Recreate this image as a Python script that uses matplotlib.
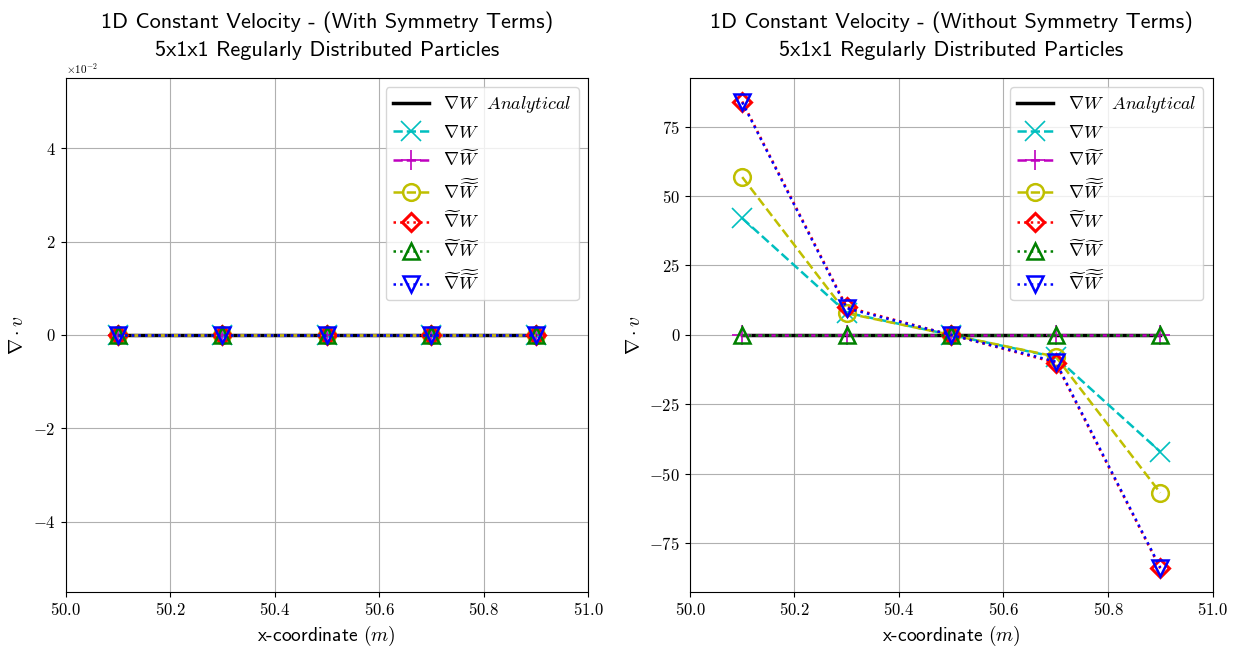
import numpy as np
import matplotlib
matplotlib.use("Agg")
import matplotlib.pyplot as plt
from matplotlib.ticker import FuncFormatter, ScalarFormatter

plt.rcParams['font.family'] = 'serif'
plt.rcParams['font.serif'] = ['cmr10']
plt.rcParams['mathtext.fontset'] = 'cm'
plt.rcParams['axes.formatter.use_mathtext'] = True

x = np.array([50.1, 50.3, 50.5, 50.7, 50.9])

# divergence estimates with symmetry terms (all vanish)
sym_analytical = [0, 0, 0, 0, 0]
sym_gradW = [0, 0, 0, 0, 0]
sym_gradWt = [0, 0, 0, 0, 0]
sym_gradWtt = [0, 0, 0, 0, 0]
sym_tgradW = [0, 0, 0, 0, 0]
sym_tgradWt = [0, 0, 0, 0, 0]
sym_tgradWtt = [0, 0, 0, 0, 0]

# divergence estimates without symmetry terms
nosym_analytical = [0, 0, 0, 0, 0]
nosym_gradW = [42.0, 8.0, 0, -8.0, -42.0]
nosym_gradWt = [0, 0, 0, 0, 0]
nosym_gradWtt = [56.8, 7.8, 0, -7.8, -56.8]
nosym_tgradW = [84.0, 10.0, 0, -10.0, -84.0]
nosym_tgradWt = [0, 0, 0, 0, 0]
nosym_tgradWtt = [83.7, 9.6, 0, -9.6, -83.7]

labels = [r'$\nabla W\;\;\, Analytical$',
          r'$\nabla W$',
          r'$\nabla \widetilde{W}$',
          r'$\nabla \widetilde{\widetilde{W}}$',
          r'$\widetilde{\nabla} W$',
          r'$\widetilde{\nabla} \widetilde{W}$',
          r'$\widetilde{\nabla} \widetilde{\widetilde{W}}$']

styles = [dict(color='k', ls='-', lw=2.5),
          dict(color='c', ls='--', lw=1.8, marker='x', ms=14, mew=1.2),
          dict(color='m', ls='--', lw=1.8, marker='+', ms=14, mew=1.2),
          dict(color='y', ls='--', lw=1.8, marker='o', ms=12, mfc='none', mew=1.8),
          dict(color='r', ls=':', lw=1.8, marker='D', ms=9, mfc='none', mew=2.2),
          dict(color='g', ls=':', lw=1.8, marker='^', ms=11, mfc='none', mew=1.8),
          dict(color='b', ls=':', lw=1.8, marker='v', ms=11, mfc='none', mew=1.8)]

fig, axes = plt.subplots(1, 2, figsize=(12.36, 6.46), dpi=100)
fig.subplots_adjust(left=0.053, right=0.981, bottom=0.084, top=0.879, wspace=0.195)

panels = [
    ("1D Constant Velocity - (With Symmetry Terms)",
     [sym_analytical, sym_gradW, sym_gradWt, sym_gradWtt, sym_tgradW, sym_tgradWt, sym_tgradWtt]),
    ("1D Constant Velocity - (Without Symmetry Terms)",
     [nosym_analytical, nosym_gradW, nosym_gradWt, nosym_gradWtt, nosym_tgradW, nosym_tgradWt, nosym_tgradWtt]),
]

for ax, (title, series) in zip(axes, panels):
    for y, lab, st in zip(series, labels, styles):
        ax.plot(x, y, label=lab, **st)
    ax.set_xlim(50.0, 51.0)
    ax.set_title(title + "\n5x1x1 Regularly Distributed Particles",
                 family='cmss10', fontsize=16, linespacing=1.5, pad=16)
    ax.set_xlabel(r'x-coordinate $(m)$', family='cmss10', fontsize=14)
    ax.set_ylabel(r'$\nabla \cdot v$', fontsize=14)
    ax.grid(True, color='#b0b0b0', lw=0.8)
    ax.tick_params(labelsize=12)
    ax.xaxis.set_major_formatter(FuncFormatter(lambda v, p: r'$%.1f$' % v))
    ax.legend(loc='upper right', fontsize=13, labelspacing=0.45)

# zero-valued panel: show ticks in units of 1e-2
fmt = ScalarFormatter(useMathText=True)
fmt.set_powerlimits((-1, 1))
axes[0].yaxis.set_major_formatter(fmt)
axes[0].yaxis.get_offset_text().set_fontsize(8)

axes[1].yaxis.set_major_formatter(FuncFormatter(lambda v, p: r'$%d$' % v))

fig.savefig("out.png", dpi=100)
